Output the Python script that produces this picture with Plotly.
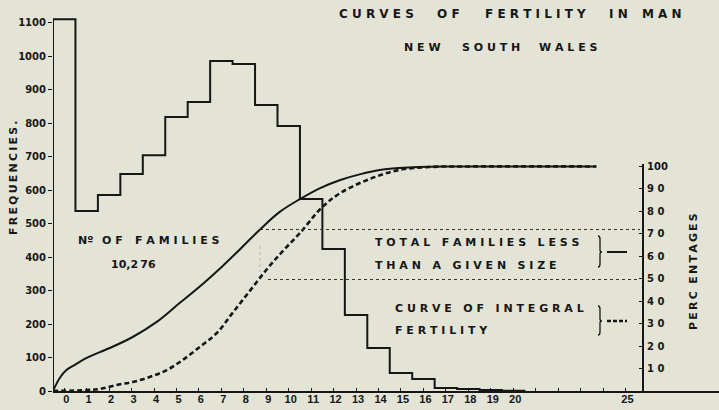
import plotly.graph_objects as go

# ---------------- data ----------------
family_size = list(range(21))
families = [1110, 537, 585, 648, 704, 818, 863, 985, 976, 854, 791,
            573, 424, 227, 128, 54, 36, 9, 6, 3, 1]

# Total families less than a given size (percent)
solid_x = [-0.5, -0.2, 0.1, 0.47, 1.0, 2.03, 3.05, 4.12, 5.14, 6.17, 7.06, 7.8,
           8.7, 9.6, 10.5, 11.4, 12.3, 13.2, 14.05, 14.9, 15.8, 17.0, 23.7]
solid_pct = [0, 5.8, 9.3, 11.6, 14.7, 19.1, 24.0, 30.7, 39.1, 47.6, 55.6, 62.7,
             71.6, 79.6, 85.3, 90.2, 93.8, 96.4, 98.2, 99.1, 99.6, 99.8, 99.8]

# Curve of integral fertility (percent)
dash_x = [-0.5, 1.0, 1.58, 2.34, 3.05, 3.8, 4.57, 5.28, 6.04, 6.8, 7.5, 8.26,
          9.0, 9.7, 10.5, 11.5, 12.3, 13.5, 14.9, 16.4, 18.0, 23.7]
dash_pct = [0, 0.4, 0.9, 2.7, 4.0, 6.2, 9.3, 13.8, 19.6, 25.8, 34.7, 44.4,
            53.8, 61.8, 70.2, 81.8, 88.0, 93.8, 98.2, 99.6, 99.8, 99.8]

x_ticks = list(range(26))
x_ticktext = [str(i) if (i <= 20 or i == 25) else "" for i in x_ticks]
y_ticks = list(range(0, 1101, 100))
pct_ticks = list(range(10, 101, 10))
pct_ticktext = ["1 0", "2 0", "3 0", "4 0", "5 0", "6 0", "7 0", "8 0", "9 0", "100"]

# ---------------- layout geometry ----------------
W, H = 719, 410
ML, MR, MT, MB = 53, 0, 10, 19
PW, PH = W - ML - MR, H - MT - MB
PX_PER_UNIT = 22.45
PX_PER_100 = 33.5
X_MIN = -0.5
X_MAX = X_MIN + PW / PX_PER_UNIT
Y_MAX = PH / PX_PER_100 * 100
PCT100_PY = 166
RIGHT_AXIS_PX = 643

INK = "#161616"
BG = "#e3e4d6"
FONT = "DejaVu Sans"

LS = "\u00a0"                # letter spacing
WS = "\u00a0\u00a0\u00a0"    # word spacing


def fx(x):
    return (x - ML) / PW


def fy(y):
    return (MT + PH - y) / PH


def sp(text, ls=LS, ws=WS):
    return ws.join(ls.join(w) for w in text.split(" "))


fig = go.Figure()

# histogram outline
hx = [family_size[0] - 0.5] + [k - 0.5 for k in family_size] + [family_size[-1] + 0.5]
hy = [0] + families + [0]
fig.add_trace(go.Scatter(x=hx, y=hy, mode="lines", line_shape="hv",
                         line=dict(color=INK, width=2), hoverinfo="skip",
                         showlegend=False))

fig.add_trace(go.Scatter(x=solid_x, y=solid_pct, yaxis="y2", mode="lines",
                         line_shape="spline", line=dict(color=INK, width=2),
                         showlegend=False))
fig.add_trace(go.Scatter(x=dash_x, y=dash_pct, yaxis="y2", mode="lines",
                         line_shape="spline",
                         line=dict(color=INK, width=2.6, dash="5px,3px"),
                         showlegend=False))

pct_domain_top = fy(PCT100_PY) * 1.01

fig.update_layout(
    width=W, height=H,
    margin=dict(l=ML, r=MR, t=MT, b=MB, pad=0),
    paper_bgcolor=BG, plot_bgcolor="rgba(0,0,0,0)",
    font=dict(family=FONT, color=INK),
    showlegend=False,
    xaxis=dict(range=[X_MIN, X_MAX], showgrid=False, zeroline=False,
               showline=True, linecolor=INK, linewidth=2,
               tickmode="array", tickvals=x_ticks, ticktext=x_ticktext,
               ticks="inside", ticklen=3, tickwidth=1, tickcolor=INK,
               tickfont=dict(family="Liberation Sans", size=11, color=INK, weight="bold"),
               ticklabelstandoff=-3, ticklabelshift=2,
               automargin=False),
    yaxis=dict(range=[0, Y_MAX], showgrid=False, zeroline=False,
               showline=False,
               tickmode="array", tickvals=y_ticks,
               ticks="outside", ticklen=4, tickwidth=1, tickcolor=INK,
               tickfont=dict(family=FONT, size=10, color=INK, weight="bold"),
               automargin=False),
    yaxis2=dict(range=[0, 101], domain=[0, pct_domain_top], anchor="free",
                position=fx(RIGHT_AXIS_PX), side="right",
                showgrid=False, zeroline=False,
                showline=True, linecolor=INK, linewidth=2,
                tickmode="array", tickvals=pct_ticks, ticktext=pct_ticktext,
                ticks="inside", ticklen=3, tickwidth=1, tickcolor=INK,
                tickfont=dict(family=FONT, size=10, color=INK, weight="bold"),
                ticklabelstandoff=1,
                automargin=False),
)

ann = []


def text(px_, py_, s, size=11, xanchor="left", angle=0):
    ann.append(dict(xref="paper", yref="paper", x=fx(px_), y=fy(py_),
                    text=s, showarrow=False, xanchor=xanchor, yanchor="middle",
                    textangle=angle,
                    font=dict(family=FONT, size=size, color=INK, weight="bold")))


# title words placed where they sit in the reference
for w, x0 in [("CURVES", 337), ("OF", 435), ("FERTILITY", 483), ("IN", 607), ("MAN", 640)]:
    text(x0, 14, sp(w), size=12)
for w, x0 in [("NEW", 402), ("SOUTH", 460), ("WALES", 537)]:
    text(x0, 48, sp(w), size=11)

text(76, 240, "N\u00ba", size=11)
text(100, 240, sp("OF"), size=11)
text(133, 240, sp("FAMILIES"), size=11)
text(109, 264, "10,2\u200976", size=11)
text(373, 243, sp("TOTAL FAMILIES LESS"))
text(373, 265, sp("THAN A GIVEN SIZE"))
text(393, 308, sp("CURVE OF INTEGRAL"))
text(393, 330, sp("FERTILITY"))
text(13, 178, sp("FREQUENCIES.", ls="\u2009"), size=11, xanchor="center", angle=-90)
text(693, 272, sp("PERC ENTAGES", ls="\u2009", ws="\u00a0\u00a0"), size=11,
     xanchor="center", angle=-90)
fig.update_layout(annotations=ann)

shapes = []
# dotted guide lines
shapes.append(dict(type="line", xref="paper", yref="paper",
                   x0=fx(260), x1=fx(640), y0=fy(229.5), y1=fy(229.5),
                   line=dict(color="#333333", width=1, dash="dot")))
shapes.append(dict(type="line", xref="paper", yref="paper",
                   x0=fx(268), x1=fx(640), y0=fy(279.5), y1=fy(279.5),
                   line=dict(color="#333333", width=1, dash="dot")))
shapes.append(dict(type="line", xref="paper", yref="paper",
                   x0=fx(260), x1=fx(260), y0=fy(246), y1=fy(272),
                   line=dict(color="#b8b8aa", width=1, dash="dot")))


def brace(x0, ytop, ybot, ymid):
    p = (f"M {fx(x0)},{fy(ytop)} "
         f"Q {fx(x0 + 2)},{fy(ytop)} {fx(x0 + 2)},{fy(ytop + 3)} "
         f"L {fx(x0 + 2)},{fy(ymid - 2)} "
         f"Q {fx(x0 + 2)},{fy(ymid)} {fx(x0 + 4)},{fy(ymid)} "
         f"Q {fx(x0 + 2)},{fy(ymid)} {fx(x0 + 2)},{fy(ymid + 2)} "
         f"L {fx(x0 + 2)},{fy(ybot - 3)} "
         f"Q {fx(x0 + 2)},{fy(ybot)} {fx(x0)},{fy(ybot)}")
    return dict(type="path", xref="paper", yref="paper", path=p,
                line=dict(color=INK, width=1.3))


shapes.append(brace(598, 236, 267, 252))
shapes.append(brace(598, 306, 335, 321))
shapes.append(dict(type="line", xref="paper", yref="paper",
                   x0=fx(607), x1=fx(627), y0=fy(252), y1=fy(252),
                   line=dict(color=INK, width=2)))
shapes.append(dict(type="line", xref="paper", yref="paper",
                   x0=fx(607), x1=fx(627), y0=fy(321), y1=fy(321),
                   line=dict(color=INK, width=2.6, dash="4px,2px")))
fig.update_layout(shapes=shapes)

fig.write_html(
    "out.html",
    config={"displayModeBar": False},
    post_script="document.body.style.margin='0';document.body.style.overflow='hidden';",
)
